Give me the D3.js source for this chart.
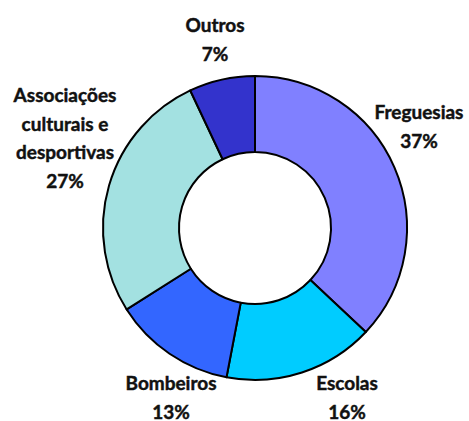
<!DOCTYPE html>
<html><head><meta charset="utf-8">
<script src="https://cdn.jsdelivr.net/npm/d3@7"></script>
<style>html,body{margin:0;padding:0;background:#fff;}svg{display:block;}</style>
</head><body>
<svg id="chart" width="469" height="421"></svg>
<script>
const categories = ["Freguesias", "Escolas", "Bombeiros", "Associações culturais e desportivas", "Outros"];
const values = [37, 16, 13, 27, 7];
const labelLines = [["Freguesias"], ["Escolas"], ["Bombeiros"], ["Associações", "culturais e", "desportivas"], ["Outros"]];
const colors = ["#8080FF", "#00CCFF", "#3366FF", "#A3E1E1", "#3333CC"];

const W = 469, H = 421;
const cx = 255, cy = 228, R = 152, r = 76;
// label anchor: centre x, first baseline y (layout only)
const labelLayout = [
  {x: 419, y: 119},
  {x: 347, y: 390},
  {x: 171, y: 390},
  {x: 65,  y: 102},
  {x: 215, y: 32}
];
const lineH = 28.5;

const svg = d3.select("#chart");
const g = svg.append("g").attr("transform", `translate(${cx},${cy})`);
const data = categories.map((c, i) => ({cat: c, value: values[i], i}));
const pie = d3.pie().value(d => d.value).sort(null).startAngle(0).endAngle(2 * Math.PI);
const arc = d3.arc().innerRadius(r).outerRadius(R);
g.selectAll("path").data(pie(data)).join("path")
  .attr("d", arc)
  .attr("fill", d => colors[d.data.i])
  .attr("stroke", "#000")
  .attr("stroke-width", 2)
  .attr("stroke-linejoin", "round");

const total = d3.sum(values);
const fmt = v => Math.round(v / total * 100) + "%";
const font = "Lato, 'Open Sans', sans-serif";

// pick font size so that 'Freguesias' is ~90px wide (Calibri bold 20px)
const probe = svg.append("text").attr("font-family", font).attr("font-weight", "bold").attr("font-size", 20).text("Freguesias");
const wProbe = probe.node().getComputedTextLength();
probe.remove();
const fs = Math.min(21, 20 * 89 / wProbe);

data.forEach((d, i) => {
  const L = labelLayout[i];
  const t = svg.append("text")
    .attr("font-family", font).attr("font-weight", "bold").attr("font-size", fs)
    .attr("fill", "#111").attr("stroke", "#111").attr("stroke-width", 0.45)
    .attr("text-anchor", "middle");
  const lines = labelLines[i].concat([fmt(d.value)]);
  lines.forEach((ln, k) => {
    t.append("tspan").attr("x", L.x).attr("y", L.y + k * lineH).text(ln);
  });
});
</script>
</body></html>
